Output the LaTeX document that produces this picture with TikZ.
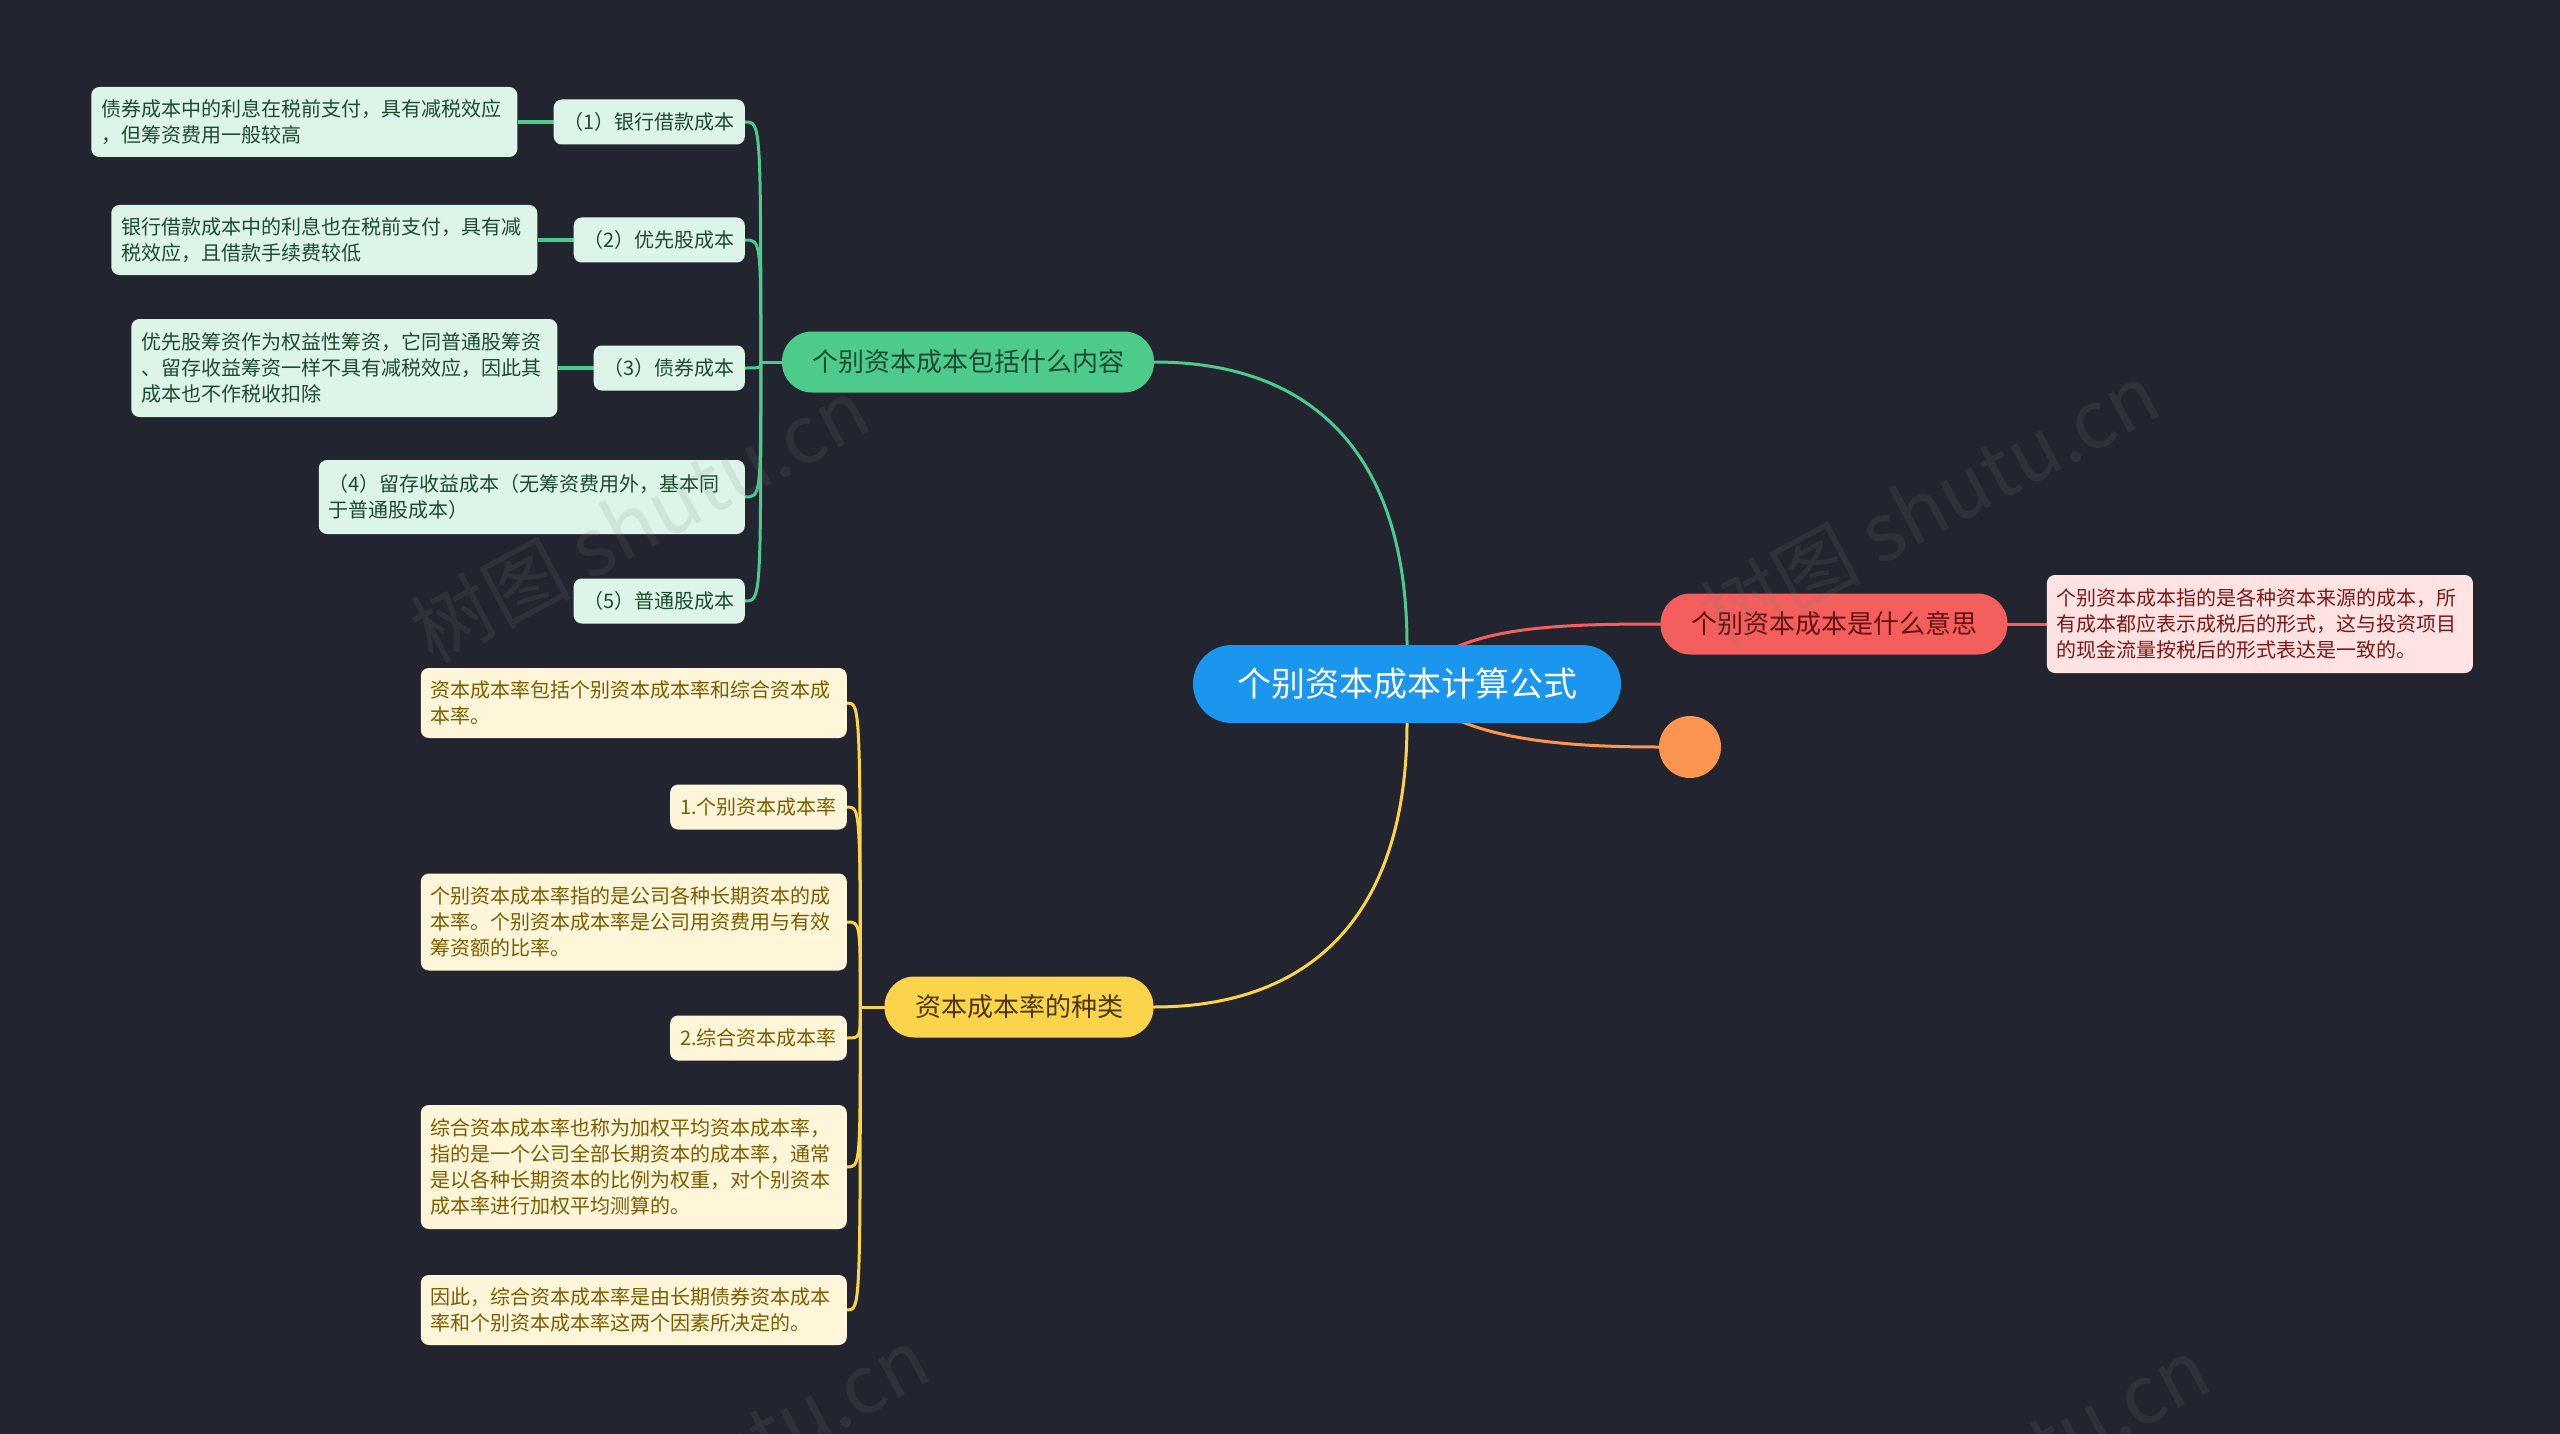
\documentclass[tikz,border=0pt]{standalone}
\usepackage{fontspec}
\setmainfont{Noto Sans CJK SC}
\usetikzlibrary{positioning,backgrounds}
\definecolor{MapBg}{HTML}{22252F}
\definecolor{RootBlue}{HTML}{1B96EF}
\definecolor{MapGreen}{HTML}{4CCB8B}
\definecolor{MapYellow}{HTML}{FCD44C}
\definecolor{MapRed}{HTML}{F25F5C}
\definecolor{MapOrange}{HTML}{FC9550}
\definecolor{MintFill}{HTML}{DDF5E8}
\definecolor{MintText}{HTML}{1D4A31}
\definecolor{CreamFill}{HTML}{FFF6DA}
\definecolor{CreamText}{HTML}{7A5C00}
\definecolor{RoseFill}{HTML}{FFE3E3}
\definecolor{RoseText}{HTML}{7E1515}

\begin{document}
\begin{tikzpicture}[x=1pt,y=-1pt,
    rootpill/.style={fill=RootBlue, text=white, rounded corners=39pt, minimum width=428pt, minimum height=78pt, inner sep=0pt, font=\fontsize{34}{40}\selectfont},
    branchpill/.style={rounded corners=30pt, minimum height=61pt, inner sep=0pt, font=\fontsize{26}{32}\selectfont},
    leafbox/.style={rounded corners=8pt, inner xsep=10pt, inner ysep=6pt, minimum height=45pt, align=left, font=\fontsize{20}{26}\selectfont},
    notebox/.style={leafbox, text width=406pt},
    gleaf/.style={fill=MintFill, text=MintText},
    yleaf/.style={fill=CreamFill, text=CreamText},
    rleaf/.style={fill=RoseFill, text=RoseText},
    link/.style={line width=3pt, line cap=round},
    stub/.style={line width=4pt},
    mark wm/.style={rotate=28, text=gray, text opacity=0.14, font=\fontsize{80}{80}\selectfont}
  ]
    \begin{scope}[on background layer]
      \fill[MapBg] (0,0) rectangle (2560,1434);
    \end{scope}
    \useasboundingbox (0,0) rectangle (2560,1434);

    % centre and main branches
    \node[rootpill] (root) at (1407,684) {个别资本成本计算公式};
    \node[branchpill, fill=MapGreen, text=MintText, minimum width=372pt] (incl) at (968,362) {个别资本成本包括什么内容};
    \node[branchpill, fill=MapRed, text=RoseText!80!black, minimum width=347pt] (mean) at (1834,624) {个别资本成本是什么意思};
    \node[branchpill, fill=MapYellow, text=CreamText!60!black, minimum width=269pt] (kind) at (1019,1007) {资本成本率的种类};
    \node[circle, fill=MapOrange, minimum size=62pt, inner sep=0pt] (dot) at (1690,747) {};

    % green leaves
    \node[leafbox, gleaf, anchor=east] (g1) at (745,122) {（1）银行借款成本};
    \node[leafbox, gleaf, anchor=east] (g2) at (745,240) {（2）优先股成本};
    \node[leafbox, gleaf, anchor=east] (g3) at (745,368) {（3）债券成本};
    \node[notebox, gleaf, anchor=east, minimum height=74pt] (g4) at (745,497) {（4）留存收益成本（无筹资费用外，基本同\\于普通股成本）};
    \node[leafbox, gleaf, anchor=east] (g5) at (745,601) {（5）普通股成本};
    \node[notebox, gleaf, left=36pt of g1, minimum height=70pt] (g1n) {债券成本中的利息在税前支付，具有减税效应\\，但筹资费用一般较高};
    \node[notebox, gleaf, left=36pt of g2, minimum height=70pt] (g2n) {银行借款成本中的利息也在税前支付，具有减\\税效应，且借款手续费较低};
    \node[notebox, gleaf, left=36pt of g3, minimum height=98pt] (g3n) {优先股筹资作为权益性筹资，它同普通股筹资\\、留存收益筹资一样不具有减税效应，因此其\\成本也不作税收扣除};

    % yellow leaves
    \node[notebox, yleaf, anchor=east, minimum height=70pt] (y1) at (847,703) {资本成本率包括个别资本成本率和综合资本成\\本率。};
    \node[leafbox, yleaf, anchor=east] (y2) at (847,807) {1.个别资本成本率};
    \node[notebox, yleaf, anchor=east, minimum height=97pt] (y3) at (847,922) {个别资本成本率指的是公司各种长期资本的成\\本率。个别资本成本率是公司用资费用与有效\\筹资额的比率。};
    \node[leafbox, yleaf, anchor=east] (y4) at (847,1038) {2.综合资本成本率};
    \node[notebox, yleaf, anchor=east, minimum height=124pt] (y5) at (847,1167) {综合资本成本率也称为加权平均资本成本率，\\指的是一个公司全部长期资本的成本率，通常\\是以各种长期资本的比例为权重，对个别资本\\成本率进行加权平均测算的。};
    \node[notebox, yleaf, anchor=east, minimum height=70pt] (y6) at (847,1310) {因此，综合资本成本率是由长期债券资本成本\\率和个别资本成本率这两个因素所决定的。};

    % red leaf
    \node[notebox, rleaf, right=39pt of mean, minimum height=98pt] (mean1) {个别资本成本指的是各种资本来源的成本，所\\有成本都应表示成税后的形式，这与投资项目\\的现金流量按税后的形式表达是一致的。};

    % watermarks
    \node[mark wm] (wm1) at (640,520) {树图 shutu.cn};
    \node[mark wm] (wm2) at (1930,505) {树图 shutu.cn};
    \node[mark wm] (wm3) at (700,1470) {树图 shutu.cn};
    \node[mark wm] (wm4) at (1980,1480) {树图 shutu.cn};

    \begin{scope}[on background layer]
      \draw[link, MapGreen] (root.north) .. controls (1407,460) and (1318,362) .. (incl.east);
      \draw[link, MapYellow] (root.south) .. controls (1407,908) and (1318,1007) .. (kind.east);
      \draw[link, MapRed] (root.center) .. controls (1450,628) and (1540,624) .. (mean.west);
      \draw[link, MapOrange] (root.center) .. controls (1450,735) and (1540,747) .. (dot.west);
      \draw[link, MapRed] (mean.east) -- (mean1.west);

      \draw[link, MapGreen] (incl.west) -- ++(-21,0) coordinate (gt);
      \foreach \c in {g1,g2,g3,g4,g5}
        \draw[link, MapGreen] (gt) .. controls (gt |- \c.east) and (gt |- \c.east) .. (\c.east);
      \draw[stub, MapGreen] (g1.west) -- (g1n.east);
      \draw[stub, MapGreen] (g2.west) -- (g2n.east);
      \draw[stub, MapGreen] (g3.west) -- (g3n.east);

      \draw[link, MapYellow] (kind.west) -- ++(-24,0) coordinate (yt);
      \foreach \c in {y1,y2,y3,y4,y5,y6}
        \draw[link, MapYellow] (yt) .. controls (yt |- \c.east) and (yt |- \c.east) .. (\c.east);
    \end{scope}
  \end{tikzpicture}
\end{document}
